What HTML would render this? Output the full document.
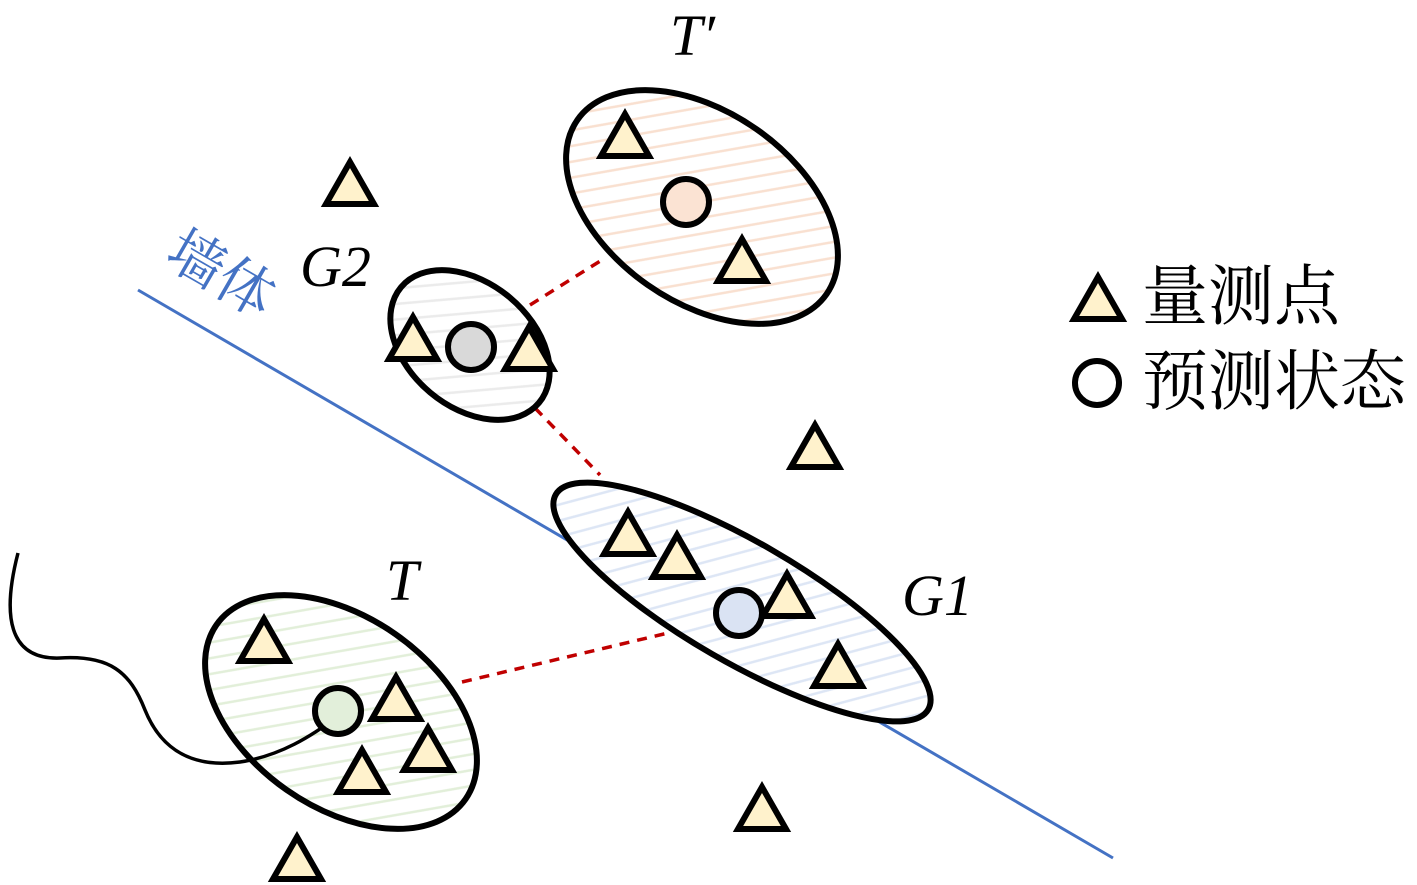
<!DOCTYPE html>
<html><head><meta charset="utf-8"><style>
html,body{margin:0;padding:0;background:#fff}
svg{display:block}
</style></head><body>
<svg width="1417" height="885" viewBox="0 0 1417 885" xmlns="http://www.w3.org/2000/svg">
<defs>
<pattern id="hr" patternUnits="userSpaceOnUse" width="22" height="22"><rect width="22" height="22" fill="#fff"/><path d="M-4,4 L4,-4 M0,22 L22,0 M18,26 L26,18" stroke="#f9e0d0" stroke-width="2.5"/></pattern>
<pattern id="hg" patternUnits="userSpaceOnUse" width="22" height="22"><rect width="22" height="22" fill="#fff"/><path d="M-4,4 L4,-4 M0,22 L22,0 M18,26 L26,18" stroke="#ebebeb" stroke-width="2.5"/></pattern>
<pattern id="hb" patternUnits="userSpaceOnUse" width="22" height="22"><rect width="22" height="22" fill="#fff"/><path d="M-4,4 L4,-4 M0,22 L22,0 M18,26 L26,18" stroke="#dde6f5" stroke-width="2.5"/></pattern>
<pattern id="hgr" patternUnits="userSpaceOnUse" width="22" height="22"><rect width="22" height="22" fill="#fff"/><path d="M-4,4 L4,-4 M0,22 L22,0 M18,26 L26,18" stroke="#e2efd9" stroke-width="2.5"/></pattern>
<g id="tri"><polygon points="0,-21 -24,21 24,21" fill="#fff2cc" stroke="#000" stroke-width="6" stroke-linejoin="miter"/></g>
</defs>

<line x1="138" y1="290" x2="1113" y2="858" stroke="#4472c4" stroke-width="3"/>

<g stroke="#c00000" stroke-width="3.5" stroke-dasharray="10 8" fill="none">
<line x1="530" y1="305" x2="605" y2="258"/>
<line x1="535" y1="408" x2="600" y2="475"/>
<line x1="462" y1="682" x2="668" y2="633"/>
</g>

<ellipse cx="702" cy="207" rx="152" ry="95" transform="rotate(35 702 207)" fill="url(#hr)" stroke="#000" stroke-width="6"/>
<ellipse cx="470" cy="345" rx="90" ry="62" transform="rotate(40 470 345)" fill="url(#hg)" stroke="#000" stroke-width="6"/>
<ellipse cx="742" cy="602" rx="215" ry="60" transform="rotate(30 742 602)" fill="url(#hb)" stroke="#000" stroke-width="6"/>
<ellipse cx="341" cy="712" rx="152" ry="95" transform="rotate(35 341 712)" fill="url(#hgr)" stroke="#000" stroke-width="6"/>

<path d="M18,553 C2,615 8,660 60,658 C110,655 130,672 145,710 C162,752 195,768 240,762 C280,756 312,736 338,716" fill="none" stroke="#000" stroke-width="3.5"/>

<use href="#tri" x="625" y="135"/>
<use href="#tri" x="742" y="260"/>
<use href="#tri" x="350" y="183"/>
<use href="#tri" x="413" y="338"/>
<use href="#tri" x="529" y="348"/>
<use href="#tri" x="815" y="446"/>
<use href="#tri" x="628" y="533"/>
<use href="#tri" x="677" y="556"/>
<use href="#tri" x="787" y="595"/>
<use href="#tri" x="838" y="665"/>
<use href="#tri" x="264" y="640"/>
<use href="#tri" x="396" y="698"/>
<use href="#tri" x="428" y="749"/>
<use href="#tri" x="362" y="771"/>
<use href="#tri" x="762" y="808"/>
<use href="#tri" x="297" y="858"/>
<use href="#tri" x="1098" y="298"/>

<circle cx="686" cy="202" r="23" fill="#fbe3d3" stroke="#000" stroke-width="6"/>
<circle cx="471" cy="347" r="23" fill="#d9d9d9" stroke="#000" stroke-width="6"/>
<circle cx="739" cy="613" r="23" fill="#dae3f3" stroke="#000" stroke-width="6"/>
<circle cx="338" cy="711" r="23" fill="#e2efda" stroke="#000" stroke-width="6"/>
<circle cx="1097" cy="383" r="22" fill="#fff" stroke="#000" stroke-width="6"/>

<g font-family="'Liberation Serif', serif" font-style="italic" font-size="58" fill="#000">
<text x="670" y="55">T′</text>
<text x="300" y="286">G2</text>
<text x="386" y="600">T</text>
<text x="902" y="615">G1</text>
</g>
<text x="0" y="0" transform="translate(162,262) rotate(30)" font-family="'Liberation Serif','Noto Serif CJK SC',serif" font-size="57" fill="#4472c4">墙体</text>
<g font-family="'Liberation Serif','Noto Serif CJK SC',serif" font-size="66" fill="#000">
<text x="1142" y="319">量测点</text>
<text x="1142" y="404">预测状态</text>
</g>
</svg>
</body></html>
